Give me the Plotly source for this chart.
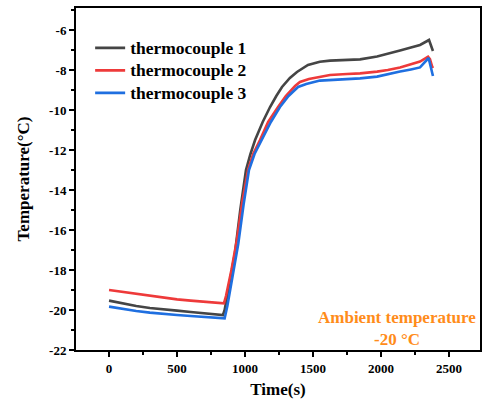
import plotly.graph_objects as go

t1 = [0, 100, 200, 300, 400, 500, 600, 700, 800, 838, 850, 880, 926, 965, 1007, 1040, 1074, 1130, 1184, 1230, 1272, 1330, 1382, 1463, 1550, 1625, 1750, 1846, 1971, 2050, 2140, 2220, 2287, 2353, 2373, 2382]
v1 = [-19.53, -19.68, -19.8, -19.9, -19.98, -20.03, -20.1, -20.17, -20.22, -20.25, -20.0, -18.9, -17.15, -15.0, -13.0, -12.2, -11.5, -10.6, -9.85, -9.3, -8.85, -8.4, -8.1, -7.75, -7.59, -7.53, -7.5, -7.47, -7.33, -7.2, -7.03, -6.88, -6.75, -6.5, -6.92, -7.05]

t2 = [0, 100, 200, 300, 400, 500, 600, 700, 800, 845, 860, 900, 940, 980, 1022, 1060, 1110, 1170, 1243, 1300, 1368, 1404, 1470, 1551, 1625, 1750, 1846, 1971, 2050, 2140, 2220, 2287, 2346, 2360, 2375, 2382]
v2 = [-19.0, -19.1, -19.2, -19.3, -19.4, -19.47, -19.53, -19.6, -19.65, -19.67, -19.3, -18.0, -16.5, -14.6, -13.0, -12.2, -11.5, -10.6, -9.85, -9.3, -8.8, -8.6, -8.45, -8.33, -8.25, -8.2, -8.17, -8.08, -8.0, -7.87, -7.73, -7.58, -7.33, -7.45, -7.8, -7.9]

t3 = [0, 100, 200, 300, 400, 500, 600, 700, 800, 850, 870, 910, 950, 990, 1029, 1070, 1125, 1190, 1257, 1320, 1390, 1450, 1551, 1625, 1750, 1846, 1971, 2050, 2140, 2220, 2287, 2350, 2365, 2375, 2382]
v3 = [-19.83, -19.95, -20.05, -20.13, -20.2, -20.25, -20.3, -20.35, -20.4, -20.42, -19.8, -18.3, -16.7, -14.7, -13.0, -12.2, -11.5, -10.6, -9.85, -9.3, -8.85, -8.7, -8.53, -8.5, -8.45, -8.42, -8.33, -8.2, -8.08, -7.97, -7.87, -7.4, -7.9, -8.2, -8.3]

names = ["thermocouple 1", "thermocouple 2", "thermocouple 3"]
colors = ["#454545", "#ee3a3a", "#1f6fe0"]

x_ticks = [0, 500, 1000, 1500, 2000, 2500]
y_ticks = [-22, -20, -18, -16, -14, -12, -10, -8, -6]

FONT = "Liberation Serif"

fig = go.Figure()
for t, v, n, c in zip([t1, t2, t3], [v1, v2, v3], names, colors):
    fig.add_trace(go.Scatter(x=t, y=v, mode="lines",
                             name='<span style="font-size:17.5px"><b>' + n + "</b></span>",
                             line=dict(color=c, width=2.6)))

fig.update_layout(
    width=482, height=411,
    margin=dict(l=76, r=2, t=8, b=61, autoexpand=False),
    paper_bgcolor="white", plot_bgcolor="white",
    font=dict(family=FONT, color="black", size=13),
    showlegend=True,
    legend=dict(x=0.035, y=0.931, xanchor="left", yanchor="top",
                font=dict(family=FONT, size=15),
                bgcolor="rgba(0,0,0,0)", tracegroupgap=0, itemwidth=30),
    annotations=[dict(x=(397 - 109) / 0.136, y=-22 + (350 - 317) / 20, xref="x", yref="y",
                      xanchor="center", yanchor="middle",
                      text="<b>Ambient temperature</b>", showarrow=False,
                      font=dict(family=FONT, size=17, color="#ff8c1a")),
                 dict(x=(397 - 109) / 0.136, y=-22 + (350 - 339) / 20, xref="x", yref="y",
                      xanchor="center", yanchor="middle",
                      text="<b>-20 °C</b>", showarrow=False,
                      font=dict(family=FONT, size=17, color="#ff8c1a"))],
)

fig.update_xaxes(range=[-243, 2728], tickvals=x_ticks,
                 ticktext=["<b>%d</b>" % v for v in x_ticks],
                 ticks="outside", ticklen=5, tickwidth=2, tickcolor="black",
                 minor=dict(dtick=250, tick0=0, ticks="outside", ticklen=3, tickwidth=2, tickcolor="black"),
                 showline=True, linecolor="black", linewidth=2, mirror=True,
                 showgrid=False, zeroline=False, automargin=False,
                 tickfont=dict(family=FONT, size=13),
                 title=dict(text="<b>Time(s)</b>", font=dict(family=FONT, size=17), standoff=9))
fig.update_yaxes(range=[-22, -4.9], tickvals=y_ticks,
                 ticktext=["<b>%d</b>" % v for v in y_ticks],
                 ticks="outside", ticklen=5, tickwidth=2, tickcolor="black",
                 minor=dict(dtick=1, tick0=-22, ticks="outside", ticklen=3, tickwidth=2, tickcolor="black"),
                 showline=True, linecolor="black", linewidth=2, mirror=True,
                 showgrid=False, zeroline=False, automargin=False,
                 tickfont=dict(family=FONT, size=13),
                 title=dict(text="<b>Temperature(°C)</b>", font=dict(family=FONT, size=17), standoff=15))

fig.write_html("out.html", config={"displayModeBar": False},
               post_script="document.body.style.margin='0';document.body.style.padding='0';document.body.style.overflow='hidden';")
